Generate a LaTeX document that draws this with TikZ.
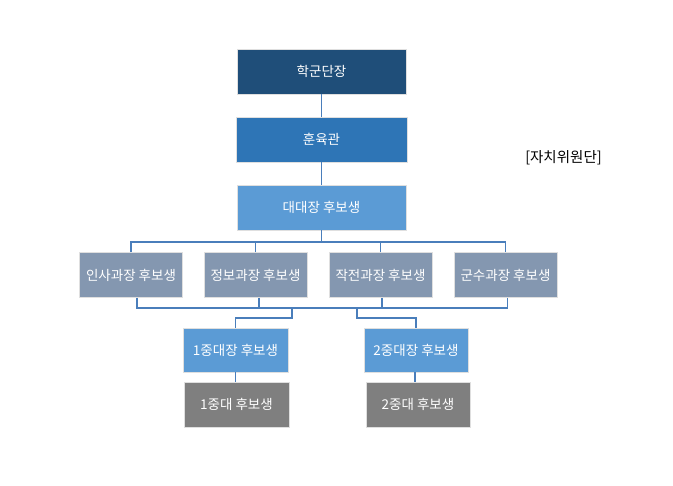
\documentclass[tikz,border=0pt]{standalone}
\usepackage{fontspec}
\newfontfamily\kr{Noto Sans CJK KR}
\usetikzlibrary{calc}
\definecolor{navy}{HTML}{1F4E79}
\definecolor{midblue}{HTML}{2E75B6}
\definecolor{lightblue}{HTML}{5B9BD5}
\definecolor{grayblue}{HTML}{8497B0}
\definecolor{darkgray}{HTML}{7F7F7F}
\definecolor{lineblue}{HTML}{4A7EBB}
\tikzset{
  box/.style={rectangle, minimum height=45pt, inner sep=0pt, text=white,
    font=\kr\fontsize{13.5}{15}\selectfont, draw=white!75!gray, line width=0.6pt},
  conn/.style={draw=lineblue, line width=1.8pt}
}
\begin{document}
\begin{tikzpicture}[x=1pt,y=-1pt]
\useasboundingbox (0,0) rectangle (673,486);
\node[box, fill=navy, minimum width=169pt] (hq) at (321.5,71.5) {학군단장};
\node[box, fill=midblue, minimum width=171pt] (hy) at (321.5,139.5) {훈육관};
\node[box, fill=lightblue, minimum width=169pt] (dd) at (321.5,207.5) {대대장 후보생};
\node[box, fill=grayblue, minimum width=103pt] (b1) at (131,275) {인사과장 후보생};
\node[box, fill=grayblue, minimum width=103pt] (b2) at (255.5,275) {정보과장 후보생};
\node[box, fill=grayblue, minimum width=103pt] (b3) at (380.5,275) {작전과장 후보생};
\node[box, fill=grayblue, minimum width=103pt] (b4) at (505.5,275) {군수과장 후보생};
\node[box, fill=lightblue, minimum width=105pt, minimum height=44pt] (c1) at (235.5,350) {1중대장 후보생};
\node[box, fill=lightblue, minimum width=104pt, minimum height=44pt] (c2) at (416,350) {2중대장 후보생};
\node[box, fill=darkgray, minimum width=105pt] (d1) at (236.5,404.5) {1중대 후보생};
\node[box, fill=darkgray, minimum width=104pt] (d2) at (418,404.5) {2중대 후보생};
\node[font=\kr\fontsize{14.5}{16}\selectfont, text=black] (tag) at (563.5,158) {[자치위원단]};
\coordinate (bus) at (0,242);
\coordinate (low) at (0,308);
\coordinate (sub) at (0,318);
\draw[conn] (hq.south) -- (hy.north);
\draw[conn] (hy.south) -- (dd.north);
\draw[conn] (dd.south) -- (dd.south |- bus);
\draw[conn] (b1.north) -- (b1.north |- bus) -- (b4.north |- bus) -- (b4.north);
\draw[conn] (b2.north) -- (b2.north |- bus);
\draw[conn] (b3.north) -- (b3.north |- bus);
\draw[conn] ($(b1.south)+(6,0)$) -- ($(b1.south |- low)+(6,0)$) -- ($(b4.south |- low)+(2,0)$) -- ($(b4.south)+(2,0)$);
\draw[conn] ($(b2.south)+(3.5,0)$) -- ($(b2.south |- low)+(3.5,0)$);
\draw[conn] ($(b3.south)+(1.5,0)$) -- ($(b3.south |- low)+(1.5,0)$);
\coordinate (j1) at (292,308);
\coordinate (j2) at (357,308);
\draw[conn] (j1) -- (j1 |- sub) -- (c1.north |- sub) -- (c1.north);
\draw[conn] (j2) -- (j2 |- sub) -- (c2.north |- sub) -- (c2.north);
\draw[conn] (c1.south) -- (c1.south |- d1.north);
\draw[conn] ($(c2.south)+(-1,0)$) -- ($(c2.south |- d2.north)+(-1,0)$);
\end{tikzpicture}
\end{document}
